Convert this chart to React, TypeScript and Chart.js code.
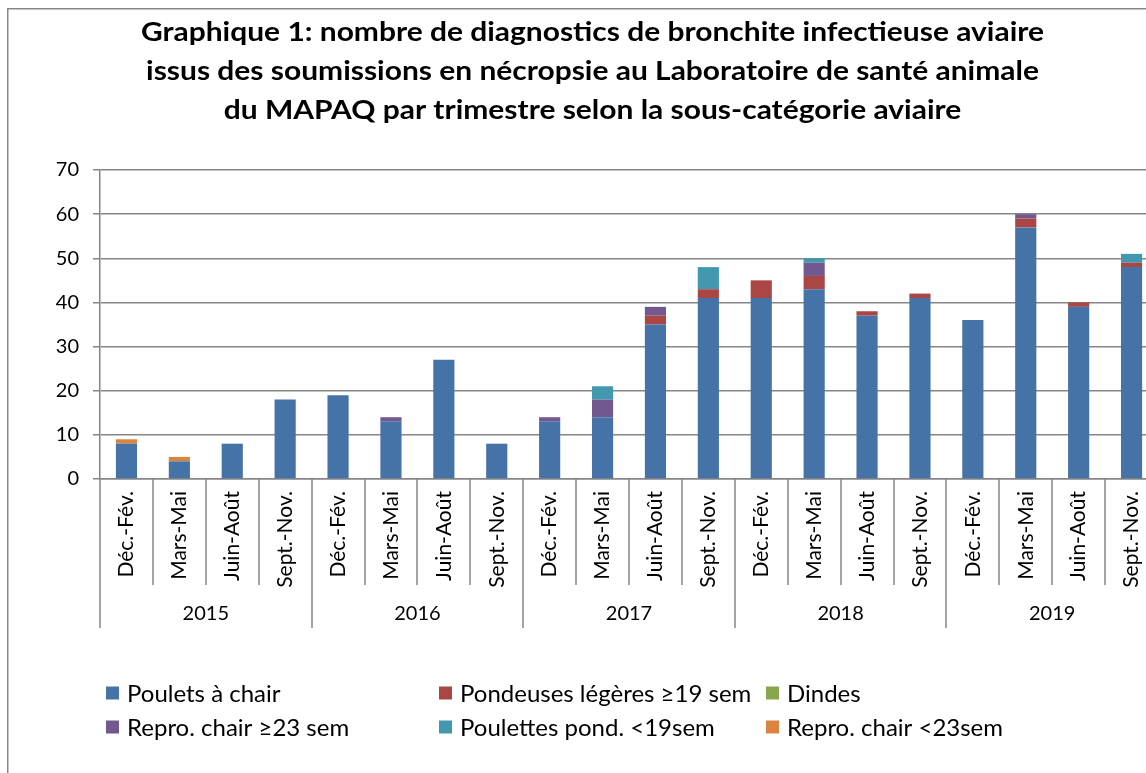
import { useEffect, useRef } from "react";
import { Chart, registerables } from "chart.js";

Chart.register(...registerables);

const titleLines = [
  "Graphique 1: nombre de diagnostics de bronchite infectieuse aviaire",
  "issus des soumissions en nécropsie au Laboratoire de santé animale",
  "du MAPAQ par trimestre selon la sous-catégorie aviaire",
];

const years = ["2015", "2016", "2017", "2018", "2019"];
const quarters = ["Déc.-Fév.", "Mars-Mai", "Juin-Août", "Sept.-Nov."];

const seriesNames = [
  "Poulets à chair",
  "Pondeuses légères ≥19 sem",
  "Dindes",
  "Repro. chair ≥23 sem",
  "Poulettes pond. <19sem",
  "Repro. chair <23sem",
];
const seriesColors = ["#4572A7", "#AA4643", "#89A54E", "#71588F", "#4198AF", "#DB843D"];

const pouletsChair = [8, 4, 8, 18, 19, 13, 27, 8, 13, 14, 35, 41, 41, 43, 37, 41, 36, 57, 39, 48];
const pondeusesLegeres = [0, 0, 0, 0, 0, 0, 0, 0, 0, 0, 2, 2, 4, 3, 1, 1, 0, 2, 1, 1];
const dindes = [0, 0, 0, 0, 0, 0, 0, 0, 0, 0, 0, 0, 0, 0, 0, 0, 0, 0, 0, 0];
const reproChair23 = [0, 0, 0, 0, 0, 1, 0, 0, 1, 4, 2, 0, 0, 3, 0, 0, 0, 1, 0, 0];
const poulettesPond = [0, 0, 0, 0, 0, 0, 0, 0, 0, 3, 0, 5, 0, 1, 0, 0, 0, 0, 0, 2];
const reproChairMoins23 = [1, 1, 0, 0, 0, 0, 0, 0, 0, 0, 0, 0, 0, 0, 0, 0, 0, 0, 0, 0];

const yMin = 0;
const yMax = 70;
const yStep = 10;

const FONT = "Lato";
const GRID = "#868686";

export default function App() {
  const ref = useRef<HTMLCanvasElement>(null);

  useEffect(() => {
    const canvas = ref.current!;
    const labels = years.flatMap(() => quarters.slice());
    const seriesData = [pouletsChair, pondeusesLegeres, dindes, reproChair23, poulettesPond, reproChairMoins23];

    const decorPlugin = {
      id: "decor",
      beforeDraw(chart: any) {
        const ctx = chart.ctx;
        ctx.save();
        ctx.fillStyle = "#ffffff";
        ctx.fillRect(0, 0, chart.width, chart.height);
        ctx.strokeStyle = GRID;
        ctx.lineWidth = 1.5;
        ctx.strokeRect(0.75, 0.75, chart.width - 1.5, chart.height - 1.5);
        ctx.restore();
      },
      afterDraw(chart: any) {
        const ctx = chart.ctx;
        const area = chart.chartArea;
        const xs = chart.scales.x;
        const n = labels.length;
        const cw = (area.right - area.left) / n;
        ctx.save();
        // title (slightly widened, as in the original)
        ctx.fillStyle = "#000";
        ctx.font = `bold 26px ${FONT}`;
        ctx.textAlign = "center";
        ctx.textBaseline = "middle";
        const w0 = ctx.measureText(titleLines[0]).width;
        const sx = 903 / w0;
        titleLines.forEach((t, i) => {
          ctx.save();
          ctx.translate(chart.width / 2, 25 + i * 39);
          ctx.scale(sx, 1);
          ctx.fillText(t, 0, 0);
          ctx.restore();
        });

        // multi-level category separators
        ctx.strokeStyle = GRID;
        ctx.lineWidth = 1.5;
        for (let i = 0; i <= n; i++) {
          const px = i < n ? xs.getPixelForValue(i) - cw / 2 : xs.getPixelForValue(n - 1) + cw / 2;
          const x = Math.round(px);
          const yEnd = i % quarters.length === 0 ? area.bottom + 149 : area.bottom + 106;
          ctx.beginPath();
          ctx.moveTo(x, area.bottom);
          ctx.lineTo(x, yEnd);
          ctx.stroke();
        }
        // year labels
        ctx.fillStyle = "#000";
        ctx.font = `20px ${FONT}`;
        ctx.textAlign = "center";
        ctx.textBaseline = "middle";
        years.forEach((y, yi) => {
          const a = xs.getPixelForValue(yi * quarters.length) - cw / 2;
          const b = xs.getPixelForValue(yi * quarters.length + quarters.length - 1) + cw / 2;
          ctx.fillText(y, (a + b) / 2, area.bottom + 135);
        });

        // legend
        const colX = [99, 432, 759];
        const rowY = [area.bottom + 214, area.bottom + 248];
        ctx.font = `24px ${FONT}`;
        ctx.textAlign = "left";
        seriesNames.forEach((name, i) => {
          const col = i % 3;
          const row = Math.floor(i / 3);
          const x = colX[col];
          const y = rowY[row];
          ctx.fillStyle = seriesColors[i];
          ctx.fillRect(x, y - 6.5, 13, 13);
          ctx.fillStyle = "#000";
          ctx.fillText(name, x + 21, y + 1);
        });
        ctx.restore();
      },
    };

    const chart = new Chart(canvas, {
      type: "bar",
      data: {
        labels,
        datasets: seriesNames.map((name, i) => ({
          label: name,
          data: seriesData[i],
          backgroundColor: seriesColors[i],
          borderWidth: 0,
          barPercentage: 0.4,
          categoryPercentage: 1,
        })),
      },
      options: {
        animation: false,
        responsive: false,
        devicePixelRatio: 1,
        layout: { padding: { top: 162, left: 0, right: 20, bottom: 169 } },
        plugins: {
          legend: { display: false },
          title: { display: false },
          tooltip: { enabled: false },
        },
        scales: {
          x: {
            stacked: true,
            grid: { display: false, drawTicks: false },
            border: { display: true, color: GRID, width: 1.5 },
            ticks: {
              color: "#000",
              font: { family: FONT, size: 21 },
              minRotation: 90,
              maxRotation: 90,
              autoSkip: false,
              padding: 12,
            },
            afterFit: (s: any) => {
              s.height = 150;
            },
          },
          y: {
            stacked: true,
            min: yMin,
            max: yMax,
            ticks: {
              stepSize: yStep,
              color: "#000",
              font: { family: FONT, size: 20 },
              padding: 14,
            },
            grid: { color: GRID, lineWidth: 1.5, tickLength: 7 },
            border: { display: true, color: GRID, width: 1.5 },
            afterFit: (s: any) => {
              s.width = 93;
            },
          },
        },
      },
      plugins: [decorPlugin],
    } as any);

    return () => chart.destroy();
  }, []);

  return (
    <div
      style={{
        position: "fixed",
        left: 0,
        top: 0,
        width: 1146,
        height: 773,
        overflow: "hidden",
        background: "#ffffff",
      }}
    >
      <canvas
        ref={ref}
        width={1171}
        height={790}
        style={{ position: "absolute", left: 7, top: 8, width: 1171, height: 790 }}
      />
    </div>
  );
}
